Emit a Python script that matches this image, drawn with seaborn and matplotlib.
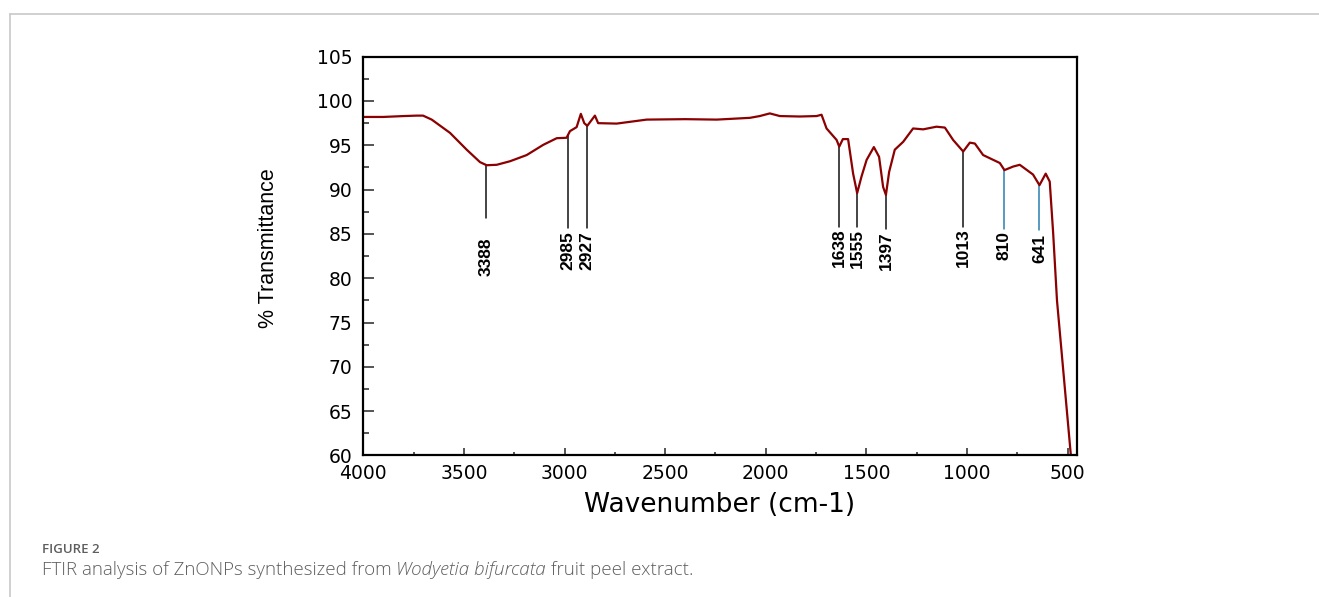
import numpy as np
import pandas as pd
import matplotlib
matplotlib.use("Agg")
import matplotlib.pyplot as plt
import seaborn as sns
from matplotlib.ticker import MultipleLocator
from matplotlib.lines import Line2D

# ---- data ----
wavenumber = [4000, 3901, 3800, 3735, 3703, 3660, 3569, 3486, 3420, 3387, 3337, 3271,
              3188, 3106, 3039, 2990, 2973, 2940, 2919, 2902, 2887, 2849, 2833, 2741,
              2592, 2400, 2244, 2120, 2079, 2030, 1980, 1930, 1831, 1748, 1723, 1698,
              1648, 1635, 1617, 1591, 1566, 1546, 1524, 1499, 1463, 1437, 1417, 1403,
              1387, 1359, 1317, 1268, 1218, 1152, 1110, 1069, 1019, 986, 961, 920,
              837, 814, 771, 738, 672, 640, 609, 589, 572, 553, 484]
transmittance = [98.2, 98.2, 98.3, 98.35, 98.35, 97.9, 96.4, 94.5, 93.1, 92.75, 92.8, 93.2,
                 93.9, 95.05, 95.8, 95.85, 96.6, 97.05, 98.55, 97.5, 97.2, 98.35, 97.5, 97.45,
                 97.9, 97.95, 97.9, 98.05, 98.1, 98.3, 98.6, 98.3, 98.25, 98.3, 98.45, 96.9,
                 95.6, 94.85, 95.7, 95.7, 91.8, 89.6, 91.5, 93.35, 94.8, 93.7, 90.3, 89.4,
                 92.0, 94.5, 95.4, 96.9, 96.8, 97.1, 97.0, 95.6, 94.3, 95.3, 95.2, 93.9,
                 93.0, 92.2, 92.6, 92.8, 91.7, 90.5, 91.8, 90.9, 85.1, 77.5, 60.0]

peak_labels = ["3388", "2985", "2927", "1638", "1555", "1397", "1013", "810", "641"]
peak_positions = [3388, 2982, 2887, 1635, 1546, 1403, 1019, 814, 640]
peak_line_ends = [86.8, 85.7, 85.7, 85.8, 85.8, 85.5, 85.8, 85.6, 85.4]
peak_label_tops = [84.6, 85.3, 85.3, 85.6, 85.6, 85.3, 85.6, 85.3, 85.0]
peak_colors = ["#111111"] * 7 + ["#2a7fb0", "#2a7fb0"]

x_ticks = [4000, 3500, 3000, 2500, 2000, 1500, 1000, 500]
y_ticks = [60, 65, 70, 75, 80, 85, 90, 95, 100, 105]

df = pd.DataFrame({"Wavenumber": wavenumber, "Transmittance": transmittance})

sns.set_style("white")
plt.rcParams["font.family"] = ["DejaVu Sans"]

W, H = 1319, 597
fig = plt.figure(figsize=(W / 100, H / 100), dpi=100)

# card border
fig.add_artist(Line2D([9.5 / W, 1.0], [1 - 14.3 / H, 1 - 14.3 / H], color="#c8c8c8", lw=1.2,
                      transform=fig.transFigure))
fig.add_artist(Line2D([9.5 / W, 9.5 / W], [1 - 14.3 / H, 0.0], color="#c8c8c8", lw=1.2,
                      transform=fig.transFigure))

ax = fig.add_axes([363.3 / W, (H - 455.4) / H, (1076.7 - 363.3) / W, (455.4 - 56.7) / H])

sns.lineplot(data=df, x="Wavenumber", y="Transmittance", sort=False, estimator=None,
             color="#8b0000", linewidth=1.6, ax=ax)

ax.set_xlim(4000, 455)
ax.set_ylim(60, 105)
ax.set_xticks(x_ticks)
ax.set_yticks(y_ticks)
ax.xaxis.set_minor_locator(MultipleLocator(250))
ax.yaxis.set_minor_locator(MultipleLocator(2.5))

for s in ax.spines.values():
    s.set_visible(True)
    s.set_color("black")
    s.set_linewidth(1.6)

ax.tick_params(axis="y", which="major", direction="in", length=7.7, width=1.1,
               labelsize=13.5, pad=8, left=True, right=False)
ax.tick_params(axis="y", which="minor", direction="in", length=4, width=1.1, left=True)
ax.tick_params(axis="x", which="major", direction="in", length=5, width=1.1,
               labelsize=13.5, pad=6, bottom=True, top=False)
ax.tick_params(axis="x", which="minor", direction="in", length=2.5, width=1.1, bottom=True)
for lab in ax.get_xticklabels() + ax.get_yticklabels():
    lab.set_color("black")

ax.set_xlabel("Wavenumber (cm-1)", fontsize=19, color="black", labelpad=7)
ax.set_ylabel("% Transmittance", fontsize=15.5, color="black",
              family=["Liberation Sans", "DejaVu Sans"])
ax.yaxis.label.set_va("center")
ax.yaxis.set_label_coords(-0.1335, 0.52)

# peak annotation lines and labels
for lab, pos, end, ltop, col in zip(peak_labels, peak_positions, peak_line_ends,
                                    peak_label_tops, peak_colors):
    top = np.interp(pos, wavenumber[::-1], transmittance[::-1])
    ax.plot([pos, pos], [top, end], color=col, lw=1.1, zorder=1)
    ax.text(pos, ltop, lab, rotation=90, ha="center", va="top",
            fontsize=12.5, fontweight="bold", color="black",
            family=["Liberation Sans", "DejaVu Sans"])

# caption
cap_col = "#5e5e5e"
fig.text(42 / W, 1 - 553 / H, "FIGURE 2", fontsize=9.5, color=cap_col,
         family=["Open Sans", "DejaVu Sans"], fontweight="semibold", va="baseline")
parts = [("FTIR analysis of ZnONPs synthesized from ", "normal"),
         ("Wodyetia bifurcata", "italic"),
         (" fruit peel extract.", "normal")]
fig.canvas.draw()
renderer = fig.canvas.get_renderer()
xpos = 42
for txt, style in parts:
    t = fig.text(xpos / W, 1 - 575 / H, txt, fontsize=13.5, color=cap_col, style=style,
                 family=["Open Sans", "DejaVu Sans"], fontweight="light", va="baseline")
    bb = t.get_window_extent(renderer=renderer)
    xpos = bb.x1

fig.savefig("out.png", dpi=100)
